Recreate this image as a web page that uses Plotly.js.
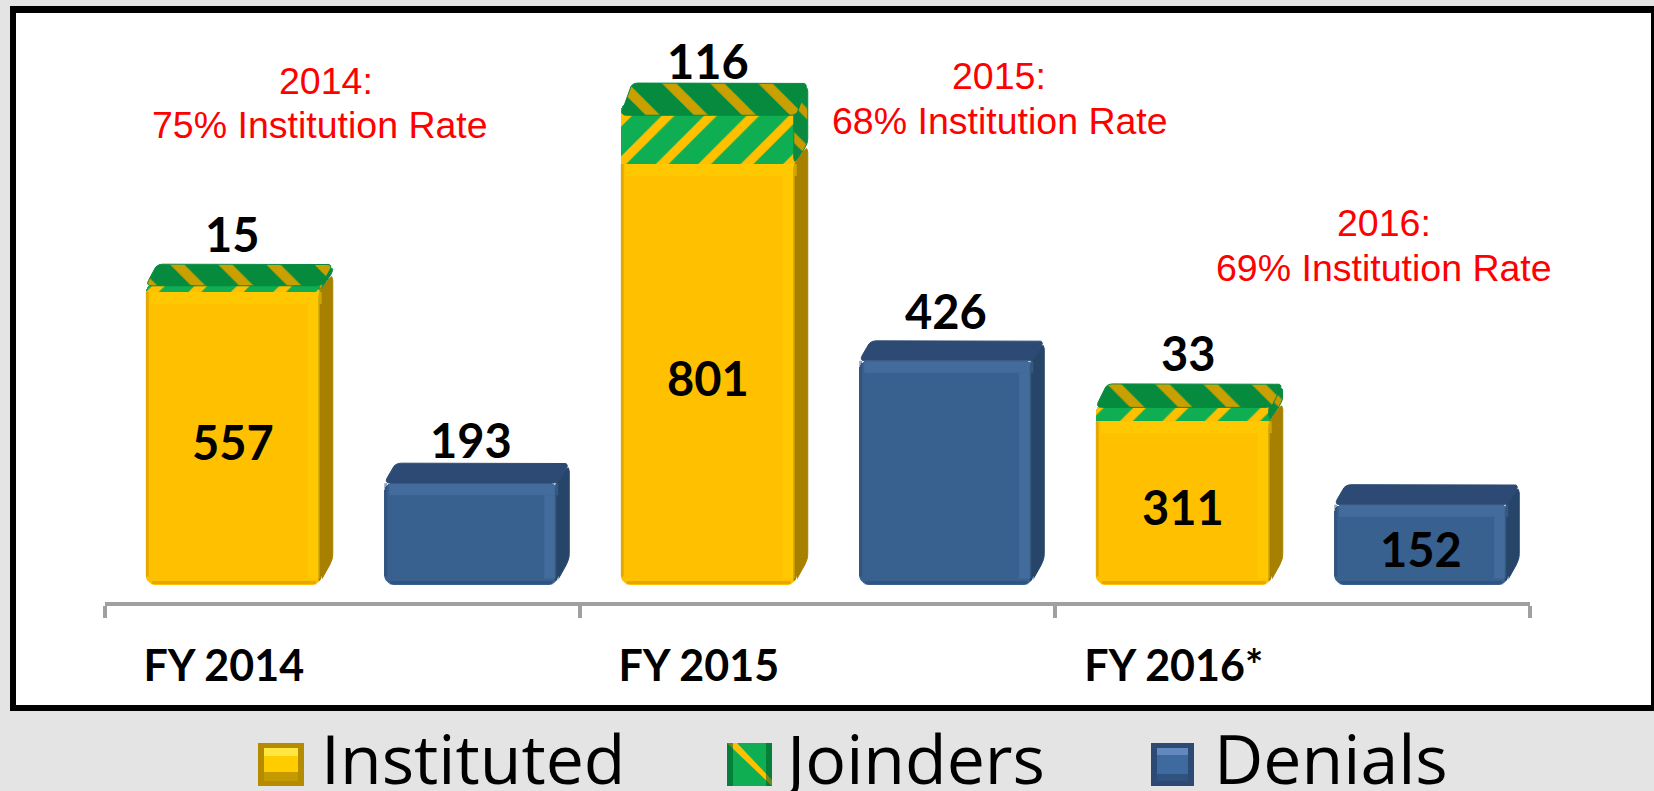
<!DOCTYPE html>
<html><head><meta charset="utf-8">
<script src="https://cdn.plot.ly/plotly-3.0.1.min.js"></script>
<style>html,body{margin:0;padding:0;background:#e4e4e4}#c{width:1654px;height:791px}</style>
</head><body><div id="c"></div>
<script>
const categories = ["FY 2014", "FY 2015", "FY 2016*"];
const instituted = [557, 801, 311];
const joinders = [15, 116, 33];
const denials = [193, 426, 152];
const rateYears = ["2014:", "2015:", "2016:"];
const rates = ["75% Institution Rate", "68% Institution Rate", "69% Institution Rate"];
const keyNames = ['Instituted', 'Joinders', 'Denials'];

const W = 1654, H = 791;
const X0 = 105, X1 = 1530, Y0 = 584.5, AX = 602, K = 0.525;
const GROUP = (X1 - X0) / 3;
const px2x = d => d / GROUP;
const px2y = d => d / K;
const BW = px2x(176), DW = px2x(174), DX = px2x(11), DY = px2y(20);
const R = 9;
const pxp = x => x / W, pyp = y => 1 - y / H;

const xInst = categories.map((_, i) => i + 0.25 + px2x(10));
const xDen = categories.map((_, i) => i + 0.75 + px2x(10));

// Closed polygon with softened corners, worked out in pixel space
function poly(arr, pts, rPx) {
  const r = rPx || 0, n = pts.length, out = [];
  const P = p => [p[0] * GROUP, p[1] * K], D = q => [q[0] / GROUP, q[1] / K];
  pts.forEach((p, i) => {
    if (!r) { out.push(p); return; }
    const c = P(p), a = P(pts[(i + n - 1) % n]), b = P(pts[(i + 1) % n]);
    const cut = (u) => {
      const dx = u[0] - c[0], dy = u[1] - c[1], L = Math.hypot(dx, dy) || 1, m = Math.min(r, L / 2);
      return [c[0] + dx / L * m, c[1] + dy / L * m];
    };
    const s = cut(a), e = cut(b);
    for (let t = 0; t <= 1.001; t += 0.25) {
      const q = [(1 - t) * (1 - t) * s[0] + 2 * t * (1 - t) * c[0] + t * t * e[0],
                 (1 - t) * (1 - t) * s[1] + 2 * t * (1 - t) * c[1] + t * t * e[1]];
      out.push(D(q));
    }
  });
  out.forEach(p => arr.push(p)); arr.push(out[0]); arr.push([null, null]);
}
function toTrace(arr, color, extra) {
  return Object.assign({
    type: 'scatter', mode: 'lines', x: arr.map(p => p[0]), y: arr.map(p => p[1]),
    fill: 'toself', fillcolor: color, line: { color: color, width: 1 },
    hoverinfo: 'skip', showlegend: false
  }, extra || {});
}
function segTrace(arr, color, width) {
  return { type: 'scatter', mode: 'lines', x: arr.map(p => p[0]), y: arr.map(p => p[1]),
    line: { color: color, width: width }, hoverinfo: 'skip', showlegend: false };
}
function sideFace(arr, xc, w, lo, hi, bottomSlant) {
  const xr = xc + w / 2;
  poly(arr, [[xr - px2x(3), lo], [xr + DX, lo + (bottomSlant ? DY * 1.25 : DY)], [xr + DX, hi + DY * 0.9], [xr - px2x(3), hi]], 6);
}
function topFace(arr, xc, w, hi, lower) {
  const xl = xc - w / 2, xr = xc + w / 2, low = hi - lower;
  poly(arr, [[xl, low], [xl + DX, hi + DY], [xr + DX, hi + DY], [xr, low]], 6);
}
function seg(arr, a, b) { arr.push(a); arr.push(b); arr.push([null, null]); }
function bevel(store, xc, w, lo, hi) {
  const xl = xc - w / 2, xr = xc + w / 2;
  seg(store.band, [xl + px2x(5), hi - px2y(6)], [xr, hi - px2y(6)]);
  seg(store.band, [xr - px2x(8), hi - px2y(12)], [xr - px2x(8), lo + px2y(6)]);
  seg(store.edge, [xl + px2x(1.5), lo + px2y(8)], [xl + px2x(1.5), hi]);
  seg(store.edge, [xl + px2x(6), lo + px2y(2)], [xr - px2x(6), lo + px2y(2)]);
}
function cornerMask(arr, xc, w) {
  const xl = xc - w / 2, xr = xc + w / 2;
  [[xl, 1], [xr, -1]].forEach(([cx, dir]) => {
    const pts = [[cx - dir * px2x(1), px2y(-1)]];
    for (let a = 0; a <= 90; a += 15) {
      const r = a * Math.PI / 180;
      pts.push([cx + dir * px2x(R * (1 - Math.sin(r))), px2y(R * (1 - Math.cos(r)))]);
    }
    poly(arr, pts);
  });
}

const ySide = [], yBev = { band: [], edge: [] }, dSide = [], dTop = [], dBev = { band: [], edge: [] };
const jSide = [], jTop = [], masks = [];
categories.forEach((_, i) => {
  const cI = xInst[i], cD = xDen[i], a = instituted[i], t = a + joinders[i], d = denials[i];
  sideFace(ySide, cI, BW, 0, a, true);
  bevel(yBev, cI, BW, 0, a);
  sideFace(jSide, cI, BW, a, t, false);
  topFace(jTop, cI, BW, t, joinders[i] * 0.2);
  sideFace(dSide, cD, DW, 0, d, true);
  topFace(dTop, cD, DW, d, 0);
  bevel(dBev, cD, DW, 0, d);
  cornerMask(masks, cI, BW);
  cornerMask(masks, cD, DW);
});

const traces = [
  { type: 'bar', width: BW, name: 'Instituted', x: xInst, y: instituted, marker: { color: '#ffc000', line: { width: 0 } } },
  { type: 'bar', width: BW, name: 'Joinders', x: xInst, y: joinders,
    marker: { color: '#0fae52', cornerradius: 8, line: { width: 0 },
      pattern: { shape: '/', bgcolor: '#0fae52', fgcolor: '#ffc000', size: 30, solidity: 0.3 } } },
  { type: 'bar', width: DW, name: 'Denials', x: xDen, y: denials, marker: { color: '#38618f', cornerradius: 10, line: { width: 0 } } },
  toTrace(ySide, '#a88000'),
  toTrace(jSide, '#0a8a40', { fillpattern: { shape: '\\', bgcolor: '#0a8a40', fgcolor: '#c79a00', size: 26, solidity: 0.3 } }),
  toTrace(jTop, '#058a3e', { fillpattern: { shape: '\\', bgcolor: '#058a3e', fgcolor: '#c9a000', size: 34, solidity: 0.3 } }),
  toTrace(dSide, '#264569'),
  toTrace(dTop, '#2c4a73'),
  segTrace(yBev.band, 'rgba(255,210,0,0.45)', 12),
  segTrace(yBev.edge, 'rgba(205,150,0,0.55)', 3),
  segTrace(dBev.band, 'rgba(96,136,190,0.28)', 12),
  segTrace(dBev.edge, 'rgba(40,72,112,0.5)', 3),
  toTrace(masks, '#ffffff', { line: { color: '#ffffff', width: 0 } })
];

const annotations = [];
const lab = (x, y, shift, text) => annotations.push({
  x, y, xref: 'x', yref: 'y', yshift: shift, text: '<b>' + text + '</b>', showarrow: false,
  xanchor: 'center', yanchor: 'middle', font: { family: 'Lato, sans-serif', size: 47, color: '#000' }
});
const jShift = [50, 42, 51], jNudge = [-1, -1, 5], dShift = [43, 50];
categories.forEach((_, i) => {
  lab(xInst[i] - px2x(1), instituted[i] / 2, -4, String(instituted[i]));
  lab(xInst[i] + px2x(jNudge[i]), instituted[i] + joinders[i], jShift[i], String(joinders[i]));
  if (i < 2) lab(xDen[i], denials[i], dShift[i], String(denials[i]));
  else lab(xDen[i], denials[i] / 2, -4, String(denials[i]));
});
const yearCx = [326, 999, 1384], yearCy = [81, 76, 223], rateCx = [320, 1000, 1384], rateCy = [125, 121, 268];
const redFont = { family: 'Liberation Sans, Arial, sans-serif', size: 37.5, color: '#ff0000' };
categories.forEach((_, i) => {
  annotations.push({ x: pxp(yearCx[i]), y: pyp(yearCy[i]), xref: 'paper', yref: 'paper', text: rateYears[i],
    showarrow: false, xanchor: 'center', yanchor: 'middle', font: redFont });
  annotations.push({ x: pxp(rateCx[i]), y: pyp(rateCy[i]), xref: 'paper', yref: 'paper', text: rates[i],
    showarrow: false, xanchor: 'center', yanchor: 'middle', font: redFont });
});

const keyX = [319, 779, 1212];
keyNames.forEach((n, i) => annotations.push({
  x: pxp(keyX[i]), y: pyp(757), xref: 'paper', yref: 'paper', text: n, showarrow: false,
  xanchor: 'left', yanchor: 'middle', font: { family: 'Open Sans, sans-serif', size: 68, color: '#000' }
}));

function rect(x0, y0, x1, y1, fill, layer) {
  return { type: 'rect', xref: 'paper', yref: 'paper', x0: pxp(x0), x1: pxp(x1), y0: pyp(y0), y1: pyp(y1),
    fillcolor: fill, line: { width: 0 }, layer: layer || 'above' };
}
function strip(x0, y0, x1, y1, x2, y2, x3, y3, fill) {
  const p = (x, y) => pxp(x) + ',' + pyp(y);
  return { type: 'path', xref: 'paper', yref: 'paper', fillcolor: fill, line: { width: 0 },
    path: 'M' + p(x0, y0) + 'L' + p(x1, y1) + 'L' + p(x2, y2) + 'L' + p(x3, y3) + 'Z' };
}
const shapes = [
  rect(10, 6, 1654, 711, '#000000', 'below'),
  rect(16, 13, 1651, 705, '#ffffff', 'below'),
  // key swatches
  rect(258, 743, 304, 786, '#b58b00'), rect(264, 748, 298, 781, '#ffcc00'), rect(264, 748, 298, 756, '#ffe640'), rect(264, 772, 298, 781, '#c49a00'),
  rect(727, 743, 772, 786, '#0fae52'),
  strip(727, 743, 737, 743, 772, 780, 772, 786, '#ffc000'),
  rect(727, 743, 733, 786, 'rgba(0,90,40,0.55)'), rect(766, 743, 772, 786, 'rgba(0,90,40,0.55)'),
  rect(1151, 743, 1194, 786, '#2c4a73'), rect(1157, 748, 1188, 781, '#3f6a9f'), rect(1157, 748, 1188, 755, '#6288bd'), rect(1157, 774, 1188, 781, '#30527e')
];

const layout = {
  width: W, height: H, autosize: false,
  margin: { l: 0, r: 0, t: 0, b: 0, pad: 0 },
  paper_bgcolor: '#e4e4e4', plot_bgcolor: 'rgba(0,0,0,0)',
  barmode: 'stack', bargap: 0, showlegend: false,
  font: { family: 'Lato, sans-serif' },
  xaxis: {
    domain: [X0 / W, X1 / W], range: [0, 3], type: 'linear', showgrid: false, zeroline: false,
    showline: true, linecolor: '#a0a0a0', linewidth: 4,
    tickmode: 'array', tickvals: categories.map((_, i) => i + 0.25), ticktext: categories.map(c => '<b>' + c + '</b>'),
    ticks: 'outside', ticklen: 23, tickwidth: 1, tickcolor: 'rgba(0,0,0,0)',
    tickangle: 0, tickfont: { family: 'Lato, sans-serif', size: 43, color: '#000' },
    minor: { tickmode: 'array', tickvals: [0, 1, 2, 3], ticks: 'outside', ticklen: 12, tickwidth: 4, tickcolor: '#a0a0a0', showgrid: false }
  },
  yaxis: {
    domain: [1 - AX / H, 1], range: [-(AX - Y0) / K, Y0 / K], visible: false, fixedrange: true, showgrid: false, zeroline: false
  },
  annotations, shapes
};
Plotly.newPlot('c', traces, layout, { displayModeBar: false, staticPlot: true });
</script></body></html>
